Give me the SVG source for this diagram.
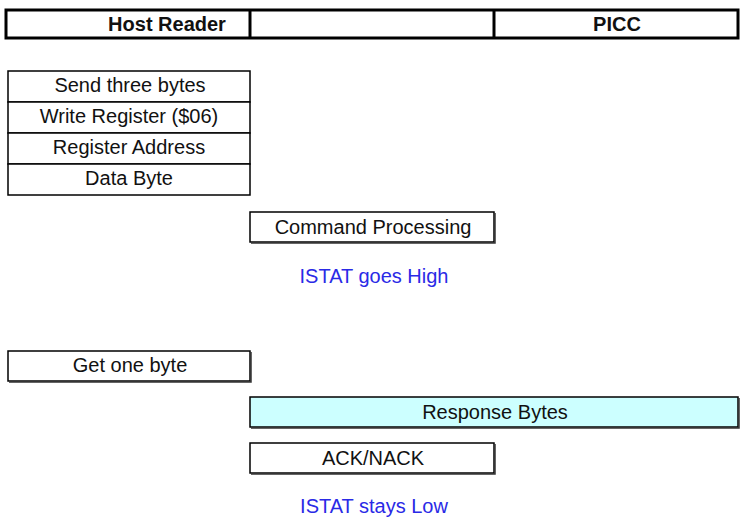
<svg xmlns="http://www.w3.org/2000/svg" width="743" height="518" viewBox="0 0 743 518">
<style>
.box{fill:#fff;stroke:#000;stroke-width:1.5}
.hdr{fill:#fff;stroke:#000;stroke-width:3}
.sh{fill:none;stroke:#333;stroke-width:1.5}
.t{font-family:"Liberation Sans",Arial,sans-serif;font-size:20px;fill:#111;text-anchor:middle}
.b{font-weight:bold}
.blue{font-family:"Liberation Sans",Arial,sans-serif;font-size:20px;fill:#2a2ae6;text-anchor:middle}
</style>
<rect width="743" height="518" fill="#fff"/>
<g id="header">
<rect class="hdr" x="6" y="10" width="732" height="28"/>
<line x1="250" y1="10" x2="250" y2="38" stroke="#000" stroke-width="3"/>
<line x1="494" y1="10" x2="494" y2="38" stroke="#000" stroke-width="3"/>
<text class="t b" x="167" y="31">Host Reader</text>
<text class="t b" x="617" y="31">PICC</text>
</g>
<g id="send">
<rect class="box" x="8" y="71" width="242" height="31"/>
<text class="t" x="130" y="92">Send three bytes</text>
</g>
<g id="write">
<rect class="box" x="8" y="102" width="242" height="31"/>
<text class="t" x="129" y="123">Write Register ($06)</text>
</g>
<g id="addr">
<rect class="box" x="8" y="133" width="242" height="31"/>
<text class="t" x="129" y="154">Register Address</text>
</g>
<g id="data">
<rect class="box" x="8" y="164" width="242" height="31"/>
<text class="t" x="129" y="185">Data Byte</text>
</g>
<g id="cmd">
<rect class="box" x="250" y="212" width="244" height="30"/>
<polyline class="sh" points="251,243 495,243 495,213"/>
<text class="t" x="373" y="234">Command Processing</text>
</g>
<g id="istat1">
<text class="blue" x="374" y="283">ISTAT goes High</text>
</g>
<g id="get">
<rect class="box" x="8" y="351" width="242" height="30"/>
<polyline class="sh" points="9,382 251,382 251,352"/>
<text class="t" x="130" y="372">Get one byte</text>
</g>
<g id="resp">
<rect x="250" y="397" width="488" height="30" fill="#ccffff" stroke="#000" stroke-width="1.5"/>
<polyline class="sh" points="251,428 739,428 739,398"/>
<text class="t" x="495" y="419">Response Bytes</text>
</g>
<g id="ack">
<rect class="box" x="250" y="443" width="244" height="30"/>
<polyline class="sh" points="251,474 495,474 495,444"/>
<text class="t" x="373" y="465">ACK/NACK</text>
</g>
<g id="istat2">
<text class="blue" x="374" y="513">ISTAT stays Low</text>
</g>
<g id="connectors"></g>
</svg>
